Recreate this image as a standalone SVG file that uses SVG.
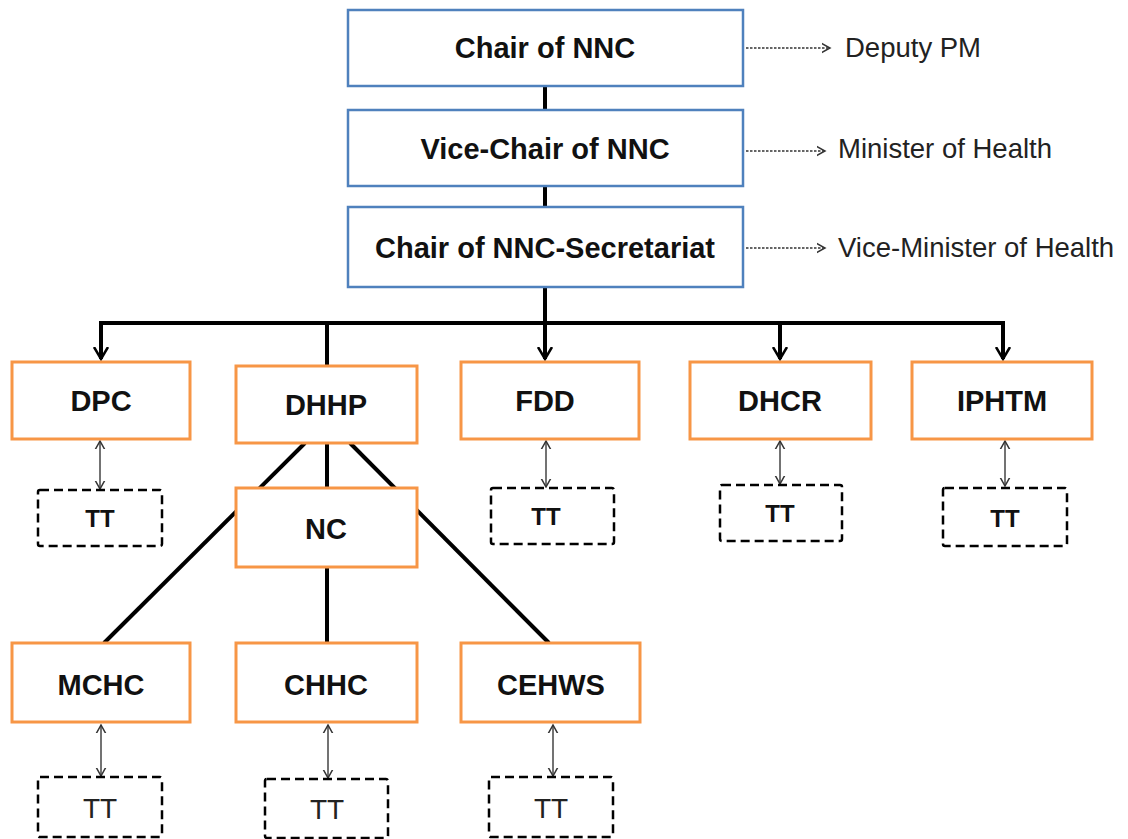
<svg xmlns="http://www.w3.org/2000/svg" width="1128" height="839" viewBox="0 0 1128 839">
<defs>
<marker id="thin" markerUnits="userSpaceOnUse" markerWidth="16" markerHeight="16" viewBox="-8 -8 16 16" refX="0" refY="0" orient="auto-start-reverse">
<path d="M-9,-5 L0,0 L-9,5" fill="none" stroke="#333" stroke-width="1.5"/>
</marker>
<marker id="busv" markerUnits="userSpaceOnUse" markerWidth="24" markerHeight="24" viewBox="-12 -12 24 24" refX="0" refY="0" orient="auto">
<path d="M-12,-7 L0,0 L-12,7" fill="none" stroke="#000" stroke-width="2.5"/>
</marker>
</defs>
<style>
.blue{fill:#fff;stroke:#4F81BD;stroke-width:2.5}
.orange{fill:#fff;stroke:#F79646;stroke-width:3}
.tt{fill:#fff;stroke:#000;stroke-width:2.5;stroke-dasharray:9 5}
.lbl{font-family:"Liberation Sans",Arial,sans-serif;font-weight:bold;font-size:29px;fill:#111;text-anchor:middle}
.side{font-family:"Liberation Sans",Arial,sans-serif;font-size:27.5px;fill:#222}
.ttb{font-family:"Liberation Sans",Arial,sans-serif;font-weight:bold;font-size:24px;fill:#111;text-anchor:middle}
.ttr{font-family:"Liberation Sans",Arial,sans-serif;font-size:28px;fill:#222;text-anchor:middle}
.thick{stroke:#000;stroke-width:4;fill:none}
.dbl{stroke:#444;stroke-width:1.5;fill:none;marker-start:url(#thin);marker-end:url(#thin)}
.dash{stroke:#333;stroke-width:1.5;fill:none;stroke-dasharray:2.5 1.5;marker-end:url(#thin)}
</style>
<g id="connectors">
<line class="thick" x1="545" y1="86" x2="545" y2="110"/>
<line class="thick" x1="545" y1="186" x2="545" y2="207"/>
<line class="thick" x1="545" y1="287" x2="545" y2="323"/>
<line class="thick" x1="99" y1="323" x2="1005" y2="323"/>
<line class="thick" x1="101" y1="321" x2="101" y2="359" marker-end="url(#busv)"/>
<line class="thick" x1="545" y1="323" x2="545" y2="359" marker-end="url(#busv)"/>
<line class="thick" x1="780" y1="323" x2="780" y2="359" marker-end="url(#busv)"/>
<line class="thick" x1="1003" y1="321" x2="1003" y2="359" marker-end="url(#busv)"/>
<line class="thick" x1="327" y1="323" x2="327" y2="366"/>
<line class="thick" x1="305" y1="443" x2="104" y2="643"/>
<line class="thick" x1="327" y1="443" x2="327" y2="643"/>
<line class="thick" x1="350" y1="443" x2="549" y2="643"/>
<line class="dash" x1="746" y1="48" x2="830" y2="48"/>
<line class="dash" x1="746" y1="151" x2="825" y2="151"/>
<line class="dash" x1="746" y1="248" x2="825" y2="248"/>
<line class="dbl" x1="100" y1="441" x2="100" y2="489"/>
<line class="dbl" x1="546" y1="441" x2="546" y2="487"/>
<line class="dbl" x1="780" y1="441" x2="780" y2="484"/>
<line class="dbl" x1="1005" y1="441" x2="1005" y2="486"/>
<line class="dbl" x1="101" y1="725" x2="101" y2="776"/>
<line class="dbl" x1="328" y1="725" x2="328" y2="778"/>
<line class="dbl" x1="553" y1="725" x2="553" y2="776"/>
</g>
<g id="chair"><rect class="blue" x="348" y="10" width="395" height="76"/><text class="lbl" x="545" y="58">Chair of NNC</text></g>
<g id="vicechair"><rect class="blue" x="348" y="110" width="395" height="76"/><text class="lbl" x="545" y="159">Vice-Chair of NNC</text></g>
<g id="secretariat"><rect class="blue" x="348" y="207" width="395" height="80"/><text class="lbl" x="545" y="258">Chair of NNC-Secretariat</text></g>
<g id="deputypm"><text class="side" x="845" y="57">Deputy PM</text></g>
<g id="minister"><text class="side" x="838" y="158">Minister of Health</text></g>
<g id="viceminister"><text class="side" x="838" y="257">Vice-Minister of Health</text></g>
<g id="dpc"><rect class="orange" x="12" y="362" width="178" height="77"/><text class="lbl" x="101" y="411">DPC</text></g>
<g id="dhhp"><rect class="orange" x="236" y="366" width="181" height="77"/><text class="lbl" x="326" y="415">DHHP</text></g>
<g id="fdd"><rect class="orange" x="461" y="362" width="178" height="77"/><text class="lbl" x="545" y="411">FDD</text></g>
<g id="dhcr"><rect class="orange" x="690" y="362" width="181" height="77"/><text class="lbl" x="780" y="411">DHCR</text></g>
<g id="iphtm"><rect class="orange" x="912" y="362" width="180" height="77"/><text class="lbl" x="1002" y="411">IPHTM</text></g>
<g id="tt-dpc"><rect class="tt" x="38" y="490" width="124" height="56" rx="2"/><text class="ttb" x="100" y="527">TT</text></g>
<g id="tt-fdd"><rect class="tt" x="491" y="488" width="123" height="56" rx="2"/><text class="ttb" x="546" y="525">TT</text></g>
<g id="tt-dhcr"><rect class="tt" x="720" y="485" width="122" height="56" rx="2"/><text class="ttb" x="780" y="522">TT</text></g>
<g id="tt-iphtm"><rect class="tt" x="943" y="488" width="124" height="58" rx="2"/><text class="ttb" x="1005" y="527">TT</text></g>
<g id="nc"><rect class="orange" x="236" y="488" width="181" height="79"/><text class="lbl" x="326" y="539">NC</text></g>
<g id="mchc"><rect class="orange" x="12" y="643" width="178" height="79"/><text class="lbl" x="101" y="695">MCHC</text></g>
<g id="chhc"><rect class="orange" x="236" y="643" width="181" height="79"/><text class="lbl" x="326" y="695">CHHC</text></g>
<g id="cehws"><rect class="orange" x="461" y="643" width="179" height="79"/><text class="lbl" x="551" y="695">CEHWS</text></g>
<g id="tt-mchc"><rect class="tt" x="38" y="777" width="124" height="60" rx="2"/><text class="ttr" x="100" y="818">TT</text></g>
<g id="tt-chhc"><rect class="tt" x="265" y="779" width="123" height="59" rx="2"/><text class="ttr" x="327" y="819">TT</text></g>
<g id="tt-cehws"><rect class="tt" x="489" y="777" width="124" height="60" rx="2"/><text class="ttr" x="551" y="818">TT</text></g>
</svg>
